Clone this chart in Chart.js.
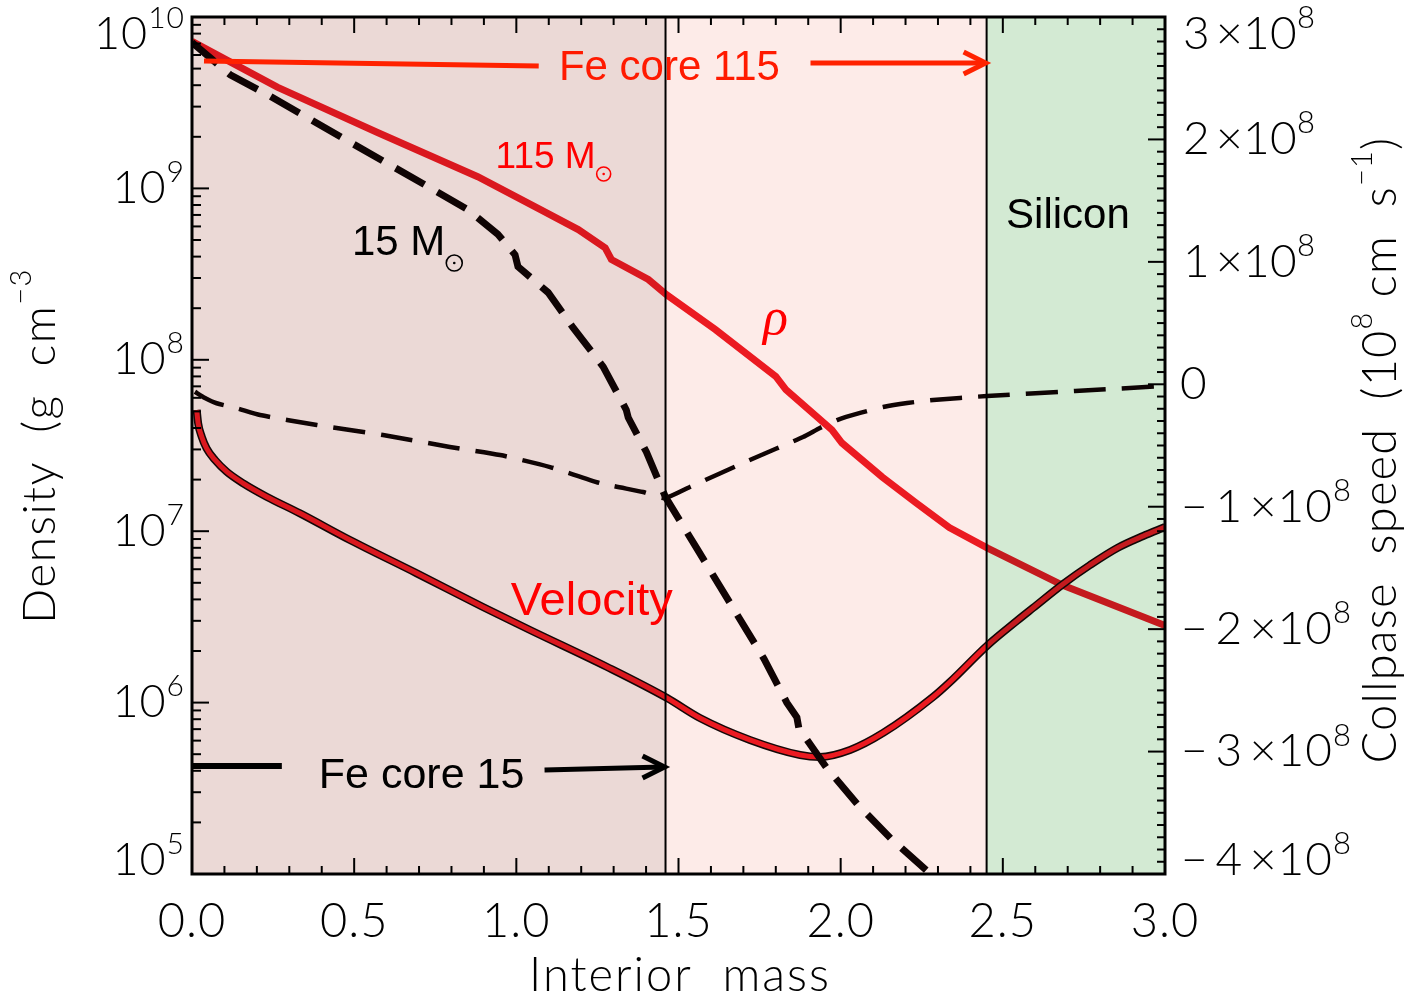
<!DOCTYPE html>
<html>
<head>
<meta charset="utf-8">
<script src="https://cdn.jsdelivr.net/npm/chart.js@4.4.1/dist/chart.umd.min.js"></script>
<style>
  html, body { margin: 0; padding: 0; background: #fff; }
  canvas { display: block; }
</style>
</head>
<body>
<canvas id="chart" width="1410" height="998"></canvas>
<script>
// density of the 115 Msun model (g cm^-3) vs interior mass
const rho115Mass = [0, 0.263, 0.572, 0.881, 1.076, 1.191, 1.274, 1.293, 1.407, 1.463, 1.614, 1.800, 1.831,
                    1.973, 2.004, 2.128, 2.233, 2.335, 2.453, 2.685, 3.0];
const rho115 = [7.2e9, 3.9e9, 2.12e9, 1.17e9, 7.5e8, 5.75e8, 4.5e8, 3.85e8, 2.94e8, 2.4e8, 1.5e8, 8.0e7, 6.7e7,
                3.9e7, 3.27e7, 2.07e7, 1.46e7, 1.05e7, 7.96e6, 4.83e6, 2.82e6];

// density of the 15 Msun model
const rho15Mass = [0, 0.118, 0.241, 0.458, 0.718, 0.851, 0.943, 0.996, 1.005, 1.098, 1.175, 1.268, 1.339, 1.345,
                   1.401, 1.460, 1.556, 1.763, 1.834, 1.865, 1.871, 1.955, 2.051, 2.156, 2.267, 2.31];
const rho15 = [7.1e9, 4.6e9, 3.45e9, 2.0e9, 1.05e9, 7.5e8, 5.4e8, 4.1e8, 3.5e8, 2.47e8, 1.54e8, 9.1e7, 5.1e7, 4.6e7,
               2.9e7, 1.58e7, 7.96e6, 1.81e6, 1.0e6, 8.2e5, 7.1e5, 4.2e5, 2.56e5, 1.6e5, 1.04e5, 9.0e4];

// collapse speed of the 15 Msun model (cm s^-1)
const vel15Mass = [0.009, 0.040, 0.076, 0.138, 0.210, 0.385, 0.589, 0.795, 0.950, 1.104, 1.258, 1.391, 1.458,
                   1.535, 1.720, 1.884, 1.936, 1.989, 2.060, 2.131, 2.205, 2.285, 2.451, 2.723, 3.0];
const vel15 = [-0.061e8, -0.112e8, -0.155e8, -0.196e8, -0.251e8, -0.333e8, -0.414e8, -0.512e8, -0.578e8,
               -0.676e8, -0.807e8, -0.880e8, -0.929e8, -0.839e8, -0.618e8, -0.431e8, -0.357e8, -0.292e8,
               -0.234e8, -0.186e8, -0.153e8, -0.128e8, -0.096e8, -0.055e8, -0.014e8];

// collapse speed of the 115 Msun model
const vel115Mass = [0.0145, 0.019, 0.030, 0.045, 0.071, 0.107, 0.158, 0.230, 0.333, 0.487, 0.693, 0.897, 1.042,
                    1.280, 1.465, 1.566, 1.720, 1.875, 1.936, 2.029, 2.131, 2.285, 2.337, 2.454, 2.543, 2.593,
                    2.686, 2.769, 2.853, 2.933, 3.0];
const vel115 = [-0.210e8, -0.319e8, -0.428e8, -0.523e8, -0.618e8, -0.714e8, -0.809e8, -0.918e8, -1.054e8,
                -1.272e8, -1.544e8, -1.819e8, -2.007e8, -2.309e8, -2.563e8, -2.726e8, -2.905e8, -3.028e8,
                -3.044e8, -2.987e8, -2.848e8, -2.554e8, -2.432e8, -2.129e8, -1.933e8, -1.827e8, -1.631e8,
                -1.476e8, -1.337e8, -1.239e8, -1.166e8];

// axes and regions
const massTicks = [0, 0.5, 1.0, 1.5, 2.0, 2.5, 3.0];
const densityExps = [5, 6, 7, 8, 9, 10];
const speedTicks = [-4, -3, -2, -1, 0, 1, 2, 3];  // in units of 1e8
const regionEdges = [0, 1.46, 2.45, 3.0];
const regionColors = ['#ebd9d6', '#fdebe8', '#d3ead3'];

const pts = (xs, ys) => xs.map((x, i) => ({ x: x, y: ys[i] }));

const TICKF = '"Lato", "DejaVu Sans", sans-serif';
const ARIAL = '"Liberation Sans", Arial, sans-serif';

function runs(ctx, parts, x, y, align, spacing) {
  // parts: [text, size, raise]
  ctx.letterSpacing = (spacing || 0) + 'px';
  let w = 0;
  parts.forEach(p => { ctx.font = '300 ' + p[1] + 'px ' + TICKF; w += ctx.measureText(p[0]).width; });
  let cx = align === 'right' ? x - w : align === 'center' ? x - w / 2 : x;
  parts.forEach(p => {
    ctx.font = '300 ' + p[1] + 'px ' + TICKF;
    ctx.fillText(p[0], cx, y - p[2]);
    cx += ctx.measureText(p[0]).width;
  });
  ctx.letterSpacing = '0px';
}

function seg(ctx, x1, y1, x2, y2) {
  ctx.beginPath(); ctx.moveTo(x1, y1); ctx.lineTo(x2, y2); ctx.stroke();
}

function arrowHead(ctx, x, y) {
  ctx.beginPath();
  ctx.moveTo(x - 22, y - 11); ctx.lineTo(x, y); ctx.lineTo(x - 22, y + 11);
  ctx.stroke();
}

function sun(ctx, x, y, r) {
  ctx.beginPath(); ctx.arc(x, y, r, 0, Math.PI * 2); ctx.stroke();
  ctx.beginPath(); ctx.arc(x, y, 1.3, 0, Math.PI * 2); ctx.fill();
}

const decor = {
  id: 'decor',
  beforeDraw(chart) {
    const ctx = chart.ctx;
    ctx.save();
    ctx.fillStyle = '#fff';
    ctx.fillRect(0, 0, chart.width, chart.height);
    ctx.restore();
  },
  afterDatasetsDraw(chart) {
    const ctx = chart.ctx, a = chart.chartArea, xs = chart.scales.x;
    ctx.save();
    ctx.globalCompositeOperation = 'multiply';
    for (let i = 0; i < regionColors.length; i++) {
      const l = i === 0 ? a.left : xs.getPixelForValue(regionEdges[i]);
      const r = i === regionColors.length - 1 ? a.right : xs.getPixelForValue(regionEdges[i + 1]);
      ctx.fillStyle = regionColors[i];
      ctx.fillRect(l, a.top, r - l, a.bottom - a.top);
    }
    ctx.restore();
  },
  afterDraw(chart) {
    const ctx = chart.ctx, a = chart.chartArea;
    const xs = chart.scales.x, yl = chart.scales.y, yr = chart.scales.y2;
    const X = v => xs.getPixelForValue(v);
    const Y = lg => yl.getPixelForValue(Math.pow(10, lg));
    ctx.save();

    // region boundaries
    ctx.strokeStyle = '#000';
    ctx.lineWidth = 2;
    seg(ctx, X(regionEdges[1]), a.top, X(regionEdges[1]), a.bottom);
    seg(ctx, X(regionEdges[2]), a.top, X(regionEdges[2]), a.bottom);

    // frame
    ctx.lineWidth = 3;
    ctx.strokeRect(a.left, a.top, a.right - a.left, a.bottom - a.top);

    // ticks
    ctx.lineWidth = 2;
    for (let i = 0; i <= 30; i++) {
      const p = X(i / 10), len = i % 5 === 0 ? 16 : 8;
      seg(ctx, p, a.bottom, p, a.bottom - len);
      seg(ctx, p, a.top, p, a.top + len);
    }
    densityExps.forEach(e => {
      if (e === 10) return;
      for (let m = 1; m < 10; m++) {
        const p = yl.getPixelForValue(m * Math.pow(10, e)), len = m === 1 ? 17 : 9;
        seg(ctx, a.left, p, a.left + len, p);
      }
    });
    for (let i = -40; i <= 30; i++) {
      const p = yr.getPixelForValue(i * 1e7), len = i % 10 === 0 ? 17 : 8;
      seg(ctx, a.right, p, a.right - len, p);
    }

    // tick labels
    ctx.fillStyle = '#000';
    ctx.textBaseline = 'middle';
    massTicks.forEach(v => runs(ctx, [[v.toFixed(1), 47, 0]], X(v), a.bottom + 48, 'center', 1));
    densityExps.forEach(e => {
      const p = Math.min(Math.max(yl.getPixelForValue(Math.pow(10, e)), 34), 860);
      runs(ctx, [['10', 45, 0], [String(e), 30, 16]], 185, p, 'right', 1);
    });
    speedTicks.forEach(v => {
      const p = Math.min(Math.max(yr.getPixelForValue(v * 1e8), 34), 860);
      if (v === 0) { runs(ctx, [['0', 46, 0]], 1180, p, 'left'); return; }
      const s = (v < 0 ? '\u2212\u2009' : '') + Math.abs(v) + '\u2009\u00d710';
      runs(ctx, [[s, 46, 0], ['8', 31, 16]], v < 0 ? 1181 : 1183, p, 'left', v < 0 ? 1 : 0.3);
    });

    // axis titles
    runs(ctx, [['Interior  mass', 47, 0]], 680, 976, 'center', 2);
    ctx.save();
    ctx.translate(40, 446);
    ctx.rotate(-Math.PI / 2);
    runs(ctx, [['Density  (g  cm', 46, 0], ['\u22123', 29, 18]], 0, 0, 'center', 1.5);
    ctx.restore();
    ctx.save();
    ctx.translate(1381, 450);
    ctx.rotate(-Math.PI / 2);
    runs(ctx, [['Collpase  speed  (10', 47, 0], ['8', 29, 18], [' cm  s', 47, 0], ['\u22121', 29, 18], [')', 47, 0]],
         0, 0, 'center', 1.2);
    ctx.restore();

    // annotations
    ctx.textBaseline = 'alphabetic';
    // Fe core 115 arrow
    ctx.strokeStyle = '#ff2200';
    ctx.fillStyle = '#ff1a00';
    ctx.lineWidth = 5;
    seg(ctx, X(0.037), Y(9.743), X(1.069), Y(9.714));
    seg(ctx, X(1.907), Y(9.732), X(2.445), Y(9.732));
    arrowHead(ctx, X(2.447), Y(9.732));
    ctx.font = '42px ' + ARIAL;
    ctx.textAlign = 'center';
    ctx.fillText('Fe core 115', X(1.472), Y(9.635));

    // Fe core 15 arrow
    ctx.strokeStyle = '#000';
    ctx.fillStyle = '#000';
    ctx.lineWidth = 6;
    seg(ctx, a.left, Y(5.630), X(0.277), Y(5.630));
    ctx.lineWidth = 5;
    seg(ctx, X(1.087), Y(5.607), X(1.452), Y(5.624));
    arrowHead(ctx, X(1.457), Y(5.624));
    ctx.font = '43px ' + ARIAL;
    ctx.textAlign = 'left';
    ctx.fillText('Fe core 15', X(0.391), Y(5.502));

    // model labels
    ctx.fillStyle = '#ff0000';
    ctx.strokeStyle = '#ff0000';
    ctx.font = '37px ' + ARIAL;
    ctx.fillText('115 M', X(0.936), Y(9.119));
    let w = ctx.measureText('115 M').width;
    ctx.lineWidth = 1.6;
    sun(ctx, X(0.936) + w + 8, Y(9.119) + 6, 7);

    ctx.fillStyle = '#000';
    ctx.strokeStyle = '#000';
    ctx.font = '42px ' + ARIAL;
    ctx.fillText('15 M', X(0.493), Y(8.611));
    w = ctx.measureText('15 M').width;
    sun(ctx, X(0.493) + w + 9, Y(8.611) + 8, 8);

    ctx.fillStyle = '#ff0000';
    ctx.font = 'italic 52px "Liberation Serif", serif';
    ctx.textAlign = 'center';
    ctx.fillText('\u03c1', X(1.799), Y(8.15));

    ctx.textAlign = 'left';
    ctx.font = '47px ' + ARIAL;
    ctx.fillText('Velocity', X(0.983), Y(6.511));

    ctx.fillStyle = '#000';
    ctx.font = '42px ' + ARIAL;
    ctx.fillText('Silicon', X(2.51), Y(8.769));

    ctx.restore();
  }
};

new Chart(document.getElementById('chart'), {
  type: 'scatter',
  data: {
    datasets: [
      {
        label: '15 Msun density',
        data: pts(rho15Mass, rho15),
        yAxisID: 'y',
        showLine: true,
        borderColor: '#100404',
        borderWidth: 7,
        borderDash: [33, 15],
        pointRadius: 0,
        tension: 0,
        clip: 0,
        order: 0
      },
      {
        label: '115 Msun velocity',
        data: pts(vel115Mass, vel115),
        yAxisID: 'y2',
        showLine: true,
        borderColor: '#ed1c24',
        borderWidth: 5,
        pointRadius: 0,
        cubicInterpolationMode: 'monotone',
        clip: 0,
        order: 1
      },
      {
        label: '115 Msun velocity outline',
        data: pts(vel115Mass, vel115),
        yAxisID: 'y2',
        showLine: true,
        borderColor: '#140808',
        borderWidth: 8,
        pointRadius: 0,
        cubicInterpolationMode: 'monotone',
        clip: 0,
        order: 2
      },
      {
        label: '115 Msun density',
        data: pts(rho115Mass, rho115),
        yAxisID: 'y',
        showLine: true,
        borderColor: '#ed1c24',
        borderWidth: 7,
        pointRadius: 0,
        tension: 0,
        clip: 0,
        order: 3
      },
      {
        label: '15 Msun velocity',
        data: pts(vel15Mass, vel15),
        yAxisID: 'y2',
        showLine: true,
        borderColor: '#100404',
        borderWidth: 4.5,
        borderDash: [32, 16],
        pointRadius: 0,
        tension: 0.2,
        clip: 0,
        order: 4
      }
    ]
  },
  options: {
    responsive: false,
    animation: false,
    layout: { padding: { left: 192, right: 245, top: 17, bottom: 124 } },
    plugins: { legend: { display: false }, tooltip: { enabled: false } },
    scales: {
      x: { type: 'linear', min: 0, max: 3, display: false },
      y: { type: 'logarithmic', min: 1e5, max: 1e10, display: false },
      y2: { type: 'linear', min: -4e8, max: 3e8, display: false }
    }
  },
  plugins: [decor]
});
</script>
</body>
</html>
